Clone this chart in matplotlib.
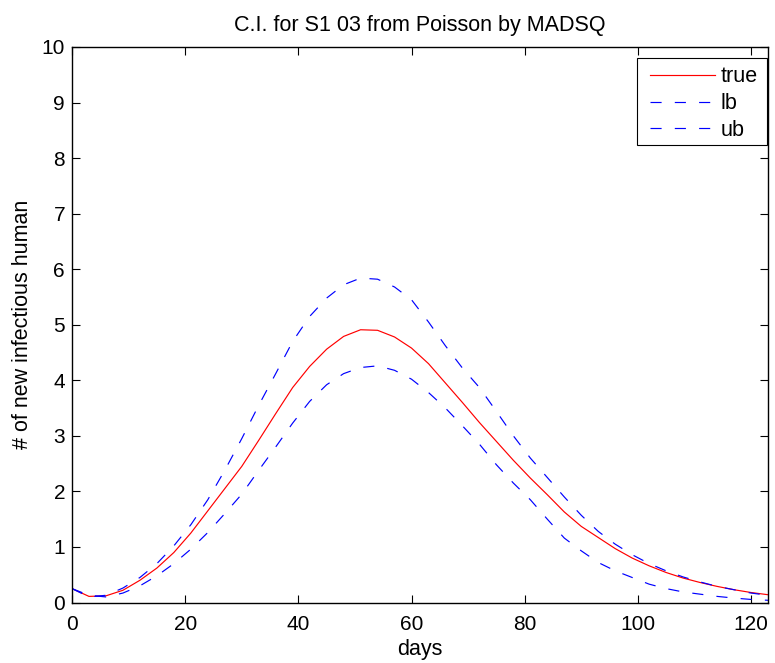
import matplotlib
matplotlib.use("Agg")
import matplotlib.pyplot as plt
from matplotlib.patches import Rectangle

plt.rcParams['font.family'] = ['Liberation Sans', 'DejaVu Sans']
plt.rcParams['lines.scale_dashes'] = False

days = [0, 3, 6, 9, 12, 15, 18, 21, 24, 27, 30, 33, 36, 39, 42, 45, 48, 51, 54,
        57, 60, 63, 66, 69, 72, 75, 78, 81, 84, 87, 90, 93, 96, 99, 102, 105,
        108, 111, 114, 117, 120, 123]

true_vals = [0.25, 0.11, 0.12, 0.22, 0.40, 0.62, 0.90, 1.25, 1.65, 2.05, 2.45,
             2.92, 3.40, 3.87, 4.25, 4.56, 4.79, 4.91, 4.90, 4.78, 4.58, 4.30,
             3.95, 3.60, 3.24, 2.90, 2.56, 2.24, 1.94, 1.63, 1.37, 1.17, 0.97,
             0.80, 0.66, 0.54, 0.44, 0.36, 0.29, 0.23, 0.18, 0.14]

lb_vals = [0.25, 0.13, 0.10, 0.17, 0.30, 0.48, 0.70, 0.96, 1.26, 1.60, 1.95,
           2.38, 2.80, 3.23, 3.62, 3.92, 4.12, 4.23, 4.26, 4.18, 4.02, 3.78,
           3.50, 3.18, 2.85, 2.48, 2.15, 1.85, 1.50, 1.16, 0.93, 0.72, 0.57,
           0.45, 0.33, 0.25, 0.19, 0.15, 0.11, 0.08, 0.055, 0.04]

ub_vals = [0.25, 0.10, 0.13, 0.26, 0.45, 0.70, 1.02, 1.40, 1.85, 2.38, 2.95,
           3.55, 4.12, 4.70, 5.15, 5.48, 5.72, 5.84, 5.82, 5.68, 5.45, 5.05,
           4.62, 4.22, 3.87, 3.44, 3.00, 2.60, 2.25, 1.90, 1.57, 1.28, 1.05,
           0.86, 0.70, 0.57, 0.46, 0.37, 0.29, 0.23, 0.17, 0.13]

xticks = [0, 20, 40, 60, 80, 100, 120]
yticks = list(range(0, 11))

FS = 15.5
fig = plt.figure(figsize=(7.75, 6.63), dpi=100)
ax = fig.add_axes([72/775, 60.5/663, 696/775, 555.5/663])

dash = (0, (8, 9.5))
ax.plot(days, true_vals, color='red', lw=0.85, label='true')
ax.plot(days, lb_vals, color='blue', lw=0.85, ls=dash, label='lb')
ax.plot(days, ub_vals, color='blue', lw=0.85, ls=dash, label='ub')

ax.set_xlim(0, 123)
ax.set_ylim(0, 10)
ax.set_xticks(xticks)
ax.set_yticks(yticks)
ax.tick_params(direction='in', top=True, right=True, length=5.5, width=0.8,
               labelsize=15)
ax.tick_params(axis='x', pad=9)
ax.tick_params(axis='y', pad=5)
for s in ax.spines.values():
    s.set_linewidth(1.0)

ax.set_title('C.I. for S1 03 from Poisson by MADSQ', fontsize=FS, pad=11.5)
ax.set_xlabel('days', fontsize=FS, labelpad=3.5)
ax.set_ylabel('# of new infectious human', fontsize=FS, labelpad=6)

# legend frame (MATLAB-style box)
frame = Rectangle((0.8118, 0.8236), 0.9986 - 0.8118, 0.9797 - 0.8236,
                  transform=ax.transAxes, facecolor='white', edgecolor='black',
                  linewidth=0.8, zorder=4)
ax.add_patch(frame)

leg = ax.legend(loc='upper left', bbox_to_anchor=(0.8211, 0.9767),
                fontsize=FS, frameon=False,
                handlelength=3.0, handletextpad=0.28,
                borderaxespad=0.0, labelspacing=0.27, borderpad=0.3)
leg.set_zorder(5)

fig.savefig('out.png', dpi=100)
